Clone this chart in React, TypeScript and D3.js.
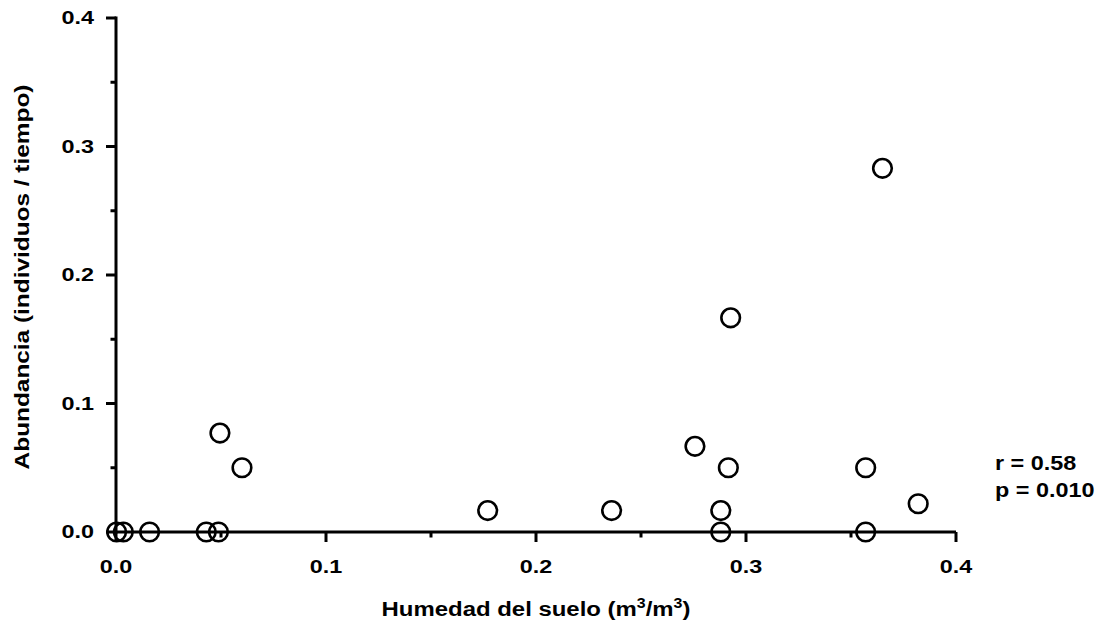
import React from "react";
import * as d3 from "d3";

const soilMoisture = [0.0003, 0.0035, 0.016, 0.043, 0.0488, 0.0495, 0.06, 0.177, 0.236, 0.2757, 0.2927, 0.2916, 0.288, 0.288, 0.357, 0.365, 0.357, 0.382];
const abundance = [0, 0, 0, 0, 0, 0.077, 0.05, 0.0167, 0.0167, 0.0667, 0.1667, 0.05, 0.0167, 0, 0.05, 0.283, 0, 0.022];
const xDomain = [0, 0.4];
const yDomain = [0, 0.4];
const statLines = ["r = 0.58", "p = 0.010"];

export default function App() {
  const W = 1102, H = 630;
  const x = d3.scaleLinear().domain(xDomain).range([116, 956]);
  const y = d3.scaleLinear().domain(yDomain).range([532, 18]);
  const fmt = d3.format(".1f");
  const xMajor = x.ticks(4);
  const xMinor = x.ticks(8).filter((t) => !xMajor.some((m) => Math.abs(m - t) < 1e-9));
  const yMajor = y.ticks(4);
  const yMinor = y.ticks(8).filter((t) => !yMajor.some((m) => Math.abs(m - t) < 1e-9));
  const font = "'Liberation Sans', Arial, sans-serif";
  const sw = 3;
  const x0 = x(0), y0 = y(0);

  return (
    <svg width={W} height={H} style={{ position: "absolute", left: 0, top: 0, background: "#fff" }} fontFamily={font} fontWeight="bold">
      <rect x={0} y={0} width={W} height={H} fill="#fff" />
      {/* axes */}
      <line x1={x0} x2={x(0.4)} y1={y0} y2={y0} stroke="#000" strokeWidth={sw} />
      <line x1={x0} x2={x0} y1={y(0.4) - 1.5} y2={y0 + 1.5} stroke="#000" strokeWidth={sw} />
      {xMajor.map((t) => (
        <line key={"xM" + t} x1={x(t)} x2={x(t)} y1={y0} y2={y0 + 10} stroke="#000" strokeWidth={sw} />
      ))}
      {xMinor.map((t) => (
        <line key={"xm" + t} x1={x(t)} x2={x(t)} y1={y0} y2={y0 + 5.5} stroke="#000" strokeWidth={sw} />
      ))}
      {yMajor.map((t) => (
        <line key={"yM" + t} x1={x0 - 10} x2={x0} y1={y(t)} y2={y(t)} stroke="#000" strokeWidth={sw} />
      ))}
      {yMinor.map((t) => (
        <line key={"ym" + t} x1={x0 - 5.5} x2={x0} y1={y(t)} y2={y(t)} stroke="#000" strokeWidth={sw} />
      ))}
      {xMajor.map((t) => (
        <text key={"xl" + t} transform={`translate(${x(t)},573) scale(1.3,1)`} textAnchor="middle" fontSize={18}>
          {fmt(t)}
        </text>
      ))}
      {yMajor.map((t) => (
        <text key={"yl" + t} transform={`translate(94,${y(t) + 6.3}) scale(1.3,1)`} textAnchor="end" fontSize={18}>
          {fmt(t)}
        </text>
      ))}
      {/* axis titles */}
      <text transform={`translate(${(x(0) + x(0.4)) / 2},616) scale(1.14,1)`} textAnchor="middle" fontSize={21}>
        Humedad del suelo (m<tspan dy={-8} fontSize={14}>3</tspan>
        <tspan dy={8}>/m</tspan>
        <tspan dy={-8} fontSize={14}>3</tspan>
        <tspan dy={8}>)</tspan>
      </text>
      <text transform={`translate(29,${(y(0) + y(0.4)) / 2 + 2}) rotate(-90) scale(1.22,1)`} textAnchor="middle" fontSize={20}>
        Abundancia (individuos / tiempo)
      </text>
      {/* stats */}
      {statLines.map((s, i) => (
        <text key={s} transform={`translate(995,${470 + i * 27}) scale(1.17,1)`} fontSize={20}>
          {s}
        </text>
      ))}
      {/* points */}
      {soilMoisture.map((v, i) => (
        <circle key={i} cx={x(v)} cy={y(abundance[i])} r={9.3} fill="none" stroke="#000" strokeWidth={2.6} />
      ))}
    </svg>
  );
}
